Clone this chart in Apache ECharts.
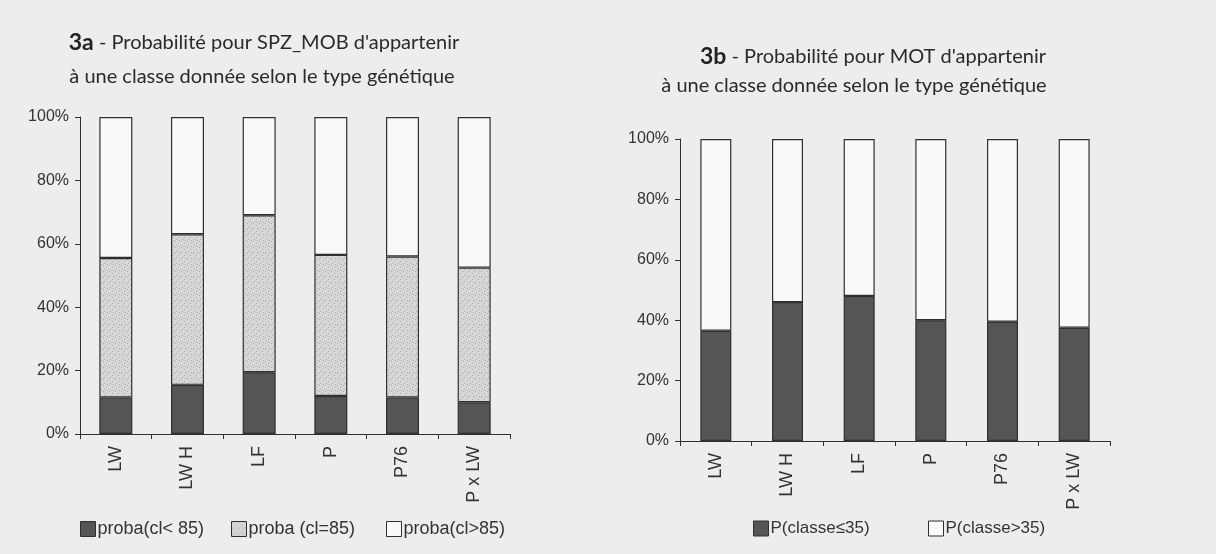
<!DOCTYPE html>
<html>
<head>
<meta charset="utf-8">
<script src="https://cdn.jsdelivr.net/npm/echarts@6/dist/echarts.min.js"></script>
<style>
html,body{margin:0;padding:0;background:#ededed;}
#c{width:1216px;height:554px;}
</style>
</head>
<body>
<div id="c"></div>
<script>
// ---- data ----
const categories = ['LW', 'LW H', 'LF', 'P', 'P76', 'P x LW'];
const yTicks = [0, 20, 40, 60, 80, 100];
// chart 3a : SPZ_MOB
const titleA = ['{b|3a} - Probabilité pour SPZ_MOB d\'appartenir', 'à une classe donnée selon le type génétique'];
const seriesA = ['proba(cl< 85)', 'proba (cl=85)', 'proba(cl>85)'];
const aLow  = [11.5, 15.5, 19.5, 12, 11.5, 10];
const aMid  = [44, 47.5, 49.5, 44.5, 44.5, 42.5];
const aHigh = [44.5, 37, 31, 43.5, 44, 47.5];
// chart 3b : MOT
const titleB = ['{b|3b} - Probabilité pour MOT d\'appartenir', 'à une classe donnée selon le type génétique'];
const seriesB = ['P(classe≤35)', 'P(classe>35)'];
const bLow  = [36.5, 46, 48, 40, 39.5, 37.5];
const bHigh = [63.5, 54, 52, 60, 60.5, 62.5];

// ---- styles ----
const FONT = 'Liberation Sans';
const TFONT = 'Lato';
const DARK = '#555555';
const WHITE = '#f9f9f9';
const EDGE = '#303030';

function makeDots() {
  const c = document.createElement('canvas');
  c.width = 6; c.height = 6;
  const g = c.getContext('2d');
  g.fillStyle = '#d7d7d7'; g.fillRect(0, 0, 6, 6);
  g.fillStyle = '#a9a9a9';
  [[1,1],[4,3],[2,5],[5,0]].forEach(p => g.fillRect(p[0], p[1], 1, 1));
  return c;
}
const DOTS = { image: makeDots(), repeat: 'repeat' };

function xAxis(gi) {
  return {
    type: 'category', gridIndex: gi, data: categories,
    axisLine: { lineStyle: { color: EDGE, width: 1 } },
    axisTick: { show: true, length: 5, lineStyle: { color: EDGE } },
    axisLabel: { rotate: 90, margin: 12, fontFamily: FONT, fontSize: 18, color: '#333' }
  };
}
function yAxis(gi) {
  return {
    type: 'value', gridIndex: gi, min: 0, max: 100, interval: 20,
    splitLine: { show: false },
    axisLine: { show: true, lineStyle: { color: EDGE, width: 1 } },
    axisTick: { show: true, length: 5, lineStyle: { color: EDGE } },
    axisLabel: {
      margin: 11, fontFamily: FONT, fontSize: 16, color: '#333',
      formatter: v => (yTicks.indexOf(v) >= 0 ? v + '%' : '')
    }
  };
}
function bar(name, data, color, gi, bw) {
  return {
    type: 'bar', name: name, data: data, stack: 's' + gi,
    xAxisIndex: gi, yAxisIndex: gi, barWidth: bw,
    itemStyle: { color: color, borderColor: EDGE, borderWidth: 1.2 },
    emphasis: { disabled: true }
  };
}
function legend(name, left, top, fs) {
  return {
    data: [name], left: left, top: top, icon: 'rect',
    itemWidth: 15, itemHeight: 15, itemGap: 0, padding: 0,
    itemStyle: { borderColor: EDGE, borderWidth: 1 },
    textStyle: { fontFamily: FONT, fontSize: fs, color: '#333', padding: [0, 0, 0, -3] },
    selectedMode: false
  };
}
const rich = { b: { fontFamily: TFONT, fontWeight: 'bold', fontSize: 23, fill: '#222', color: '#222' } };
function titleText(text, cx, cy) {
  return {
    type: 'text', x: cx, y: cy, silent: true,
    style: {
      text: text, align: 'center', verticalAlign: 'middle',
      font: '20px ' + TFONT, fontFamily: TFONT, fontSize: 20, fill: '#2a2a2a', rich: rich
    }
  };
}

const chart = echarts.init(document.getElementById('c'), null, { renderer: 'canvas' });
chart.setOption({
  backgroundColor: '#ededed',
  animation: false,
  graphic: [
    titleText(titleA[0], 264, 43),
    titleText(titleA[1], 262, 77),
    titleText(titleB[0], 873, 57),
    titleText(titleB[1], 854, 86)
  ],
  legend: [
    legend(seriesA[0], 80, 520, 18),
    legend(seriesA[1], 231, 520, 18),
    legend(seriesA[2], 386, 520, 18),
    legend(seriesB[0], 753, 520, 17),
    legend(seriesB[1], 928, 520, 17)
  ],
  grid: [
    { left: 80, top: 117, width: 430, height: 317 },
    { left: 680, top: 139, width: 430, height: 302 }
  ],
  xAxis: [xAxis(0), xAxis(1)],
  yAxis: [yAxis(0), yAxis(1)],
  series: [
    bar(seriesA[0], aLow, DARK, 0, 33),
    bar(seriesA[1], aMid, DOTS, 0, 33),
    bar(seriesA[2], aHigh, WHITE, 0, 33),
    bar(seriesB[0], bLow, DARK, 1, 31),
    bar(seriesB[1], bHigh, WHITE, 1, 31)
  ]
});
</script>
</body>
</html>
